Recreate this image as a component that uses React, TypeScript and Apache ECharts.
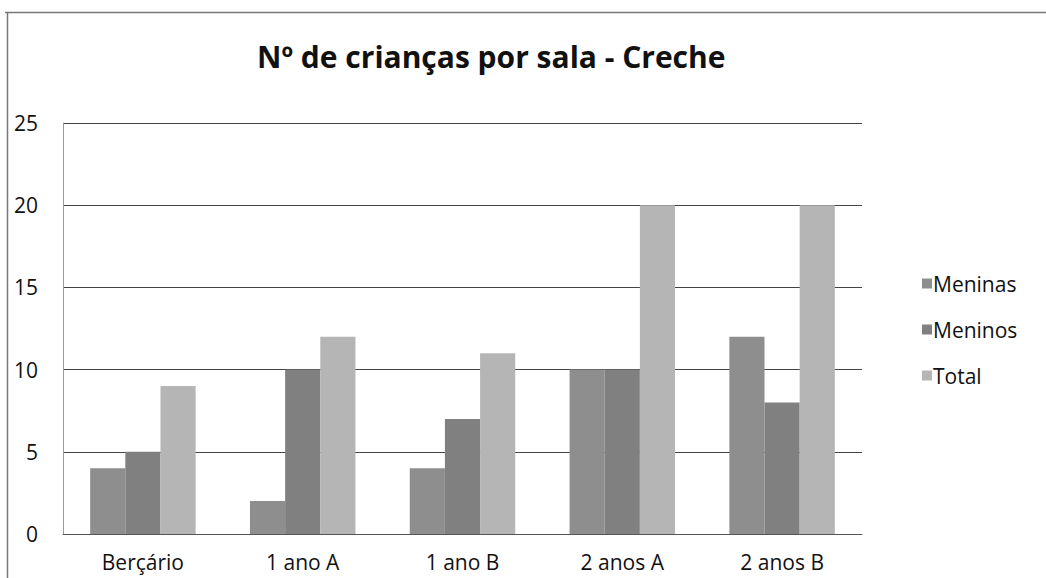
import React, { useEffect, useRef } from "react";
import * as echarts from "echarts";

const categories = ["Berçário", "1 ano A", "1 ano B", "2 anos A", "2 anos B"];
const meninas = [4, 2, 4, 10, 12];
const meninos = [5, 10, 7, 10, 8];
const total = [9, 12, 11, 20, 20];
const seriesNames = ["Meninas", "Meninos", "Total"];
const seriesColors = ["#8e8e8e", "#808080", "#b5b5b5"];
const titleText = "Nº de crianças por sala - Creche";

const FONT = "'Open Sans', 'Noto Sans', sans-serif";

export default function App() {
  const ref = useRef<HTMLDivElement>(null);
  useEffect(() => {
    if (!ref.current) return;
    const chart = echarts.init(ref.current, null, { renderer: "svg" });
    const values = [meninas, meninos, total];
    chart.setOption({
      animation: false,
      backgroundColor: "#ffffff",
      textStyle: { fontFamily: FONT },
      title: {
        text: titleText,
        left: 257,
        top: 41,
        padding: 0,
        textStyle: { fontFamily: FONT, fontSize: 30, fontWeight: "bold", color: "#111" },
      },
      legend: {
        orient: "vertical",
        left: 917,
        top: 268,
        itemWidth: 10,
        itemHeight: 10,
        itemGap: 25,
        icon: "rect",
        textStyle: { fontFamily: FONT, fontSize: 21, color: "#111", padding: [0, 0, 0, -4] },
        data: seriesNames,
      },
      grid: { left: 63, right: 184, top: 123, bottom: 44 },
      xAxis: {
        type: "category",
        data: categories,
        axisLine: { show: true, lineStyle: { color: "#555", width: 1 } },
        axisTick: { show: false },
        axisLabel: { color: "#111", fontSize: 21, fontFamily: FONT, margin: 17 },
      },
      yAxis: {
        type: "value",
        min: 0,
        max: 25,
        interval: 5,
        axisLine: { show: true, lineStyle: { color: "#999", width: 1 } },
        axisTick: { show: false },
        axisLabel: { color: "#111", fontSize: 21, fontFamily: FONT, margin: 25 },
        splitLine: { show: true, lineStyle: { color: "#444", width: 1 } },
      },
      series: seriesNames.map((name, i) => ({
        name,
        type: "bar",
        data: values[i],
        barGap: "0%",
        barCategoryGap: "34%",
        itemStyle: { color: seriesColors[i] },
      })),
      graphic: [
        {
          type: "line",
          shape: { x1: 5, y1: 12.5, x2: 1046, y2: 12.5 },
          style: { stroke: "#777", lineWidth: 1.5 },
        },
        {
          type: "line",
          shape: { x1: 7.5, y1: 12, x2: 7.5, y2: 578 },
          style: { stroke: "#777", lineWidth: 1.5 },
        },
      ],
    });
    return () => chart.dispose();
  }, []);
  return (
    <div
      ref={ref}
      style={{ position: "fixed", left: 0, top: 0, width: 1046, height: 578 }}
    />
  );
}
